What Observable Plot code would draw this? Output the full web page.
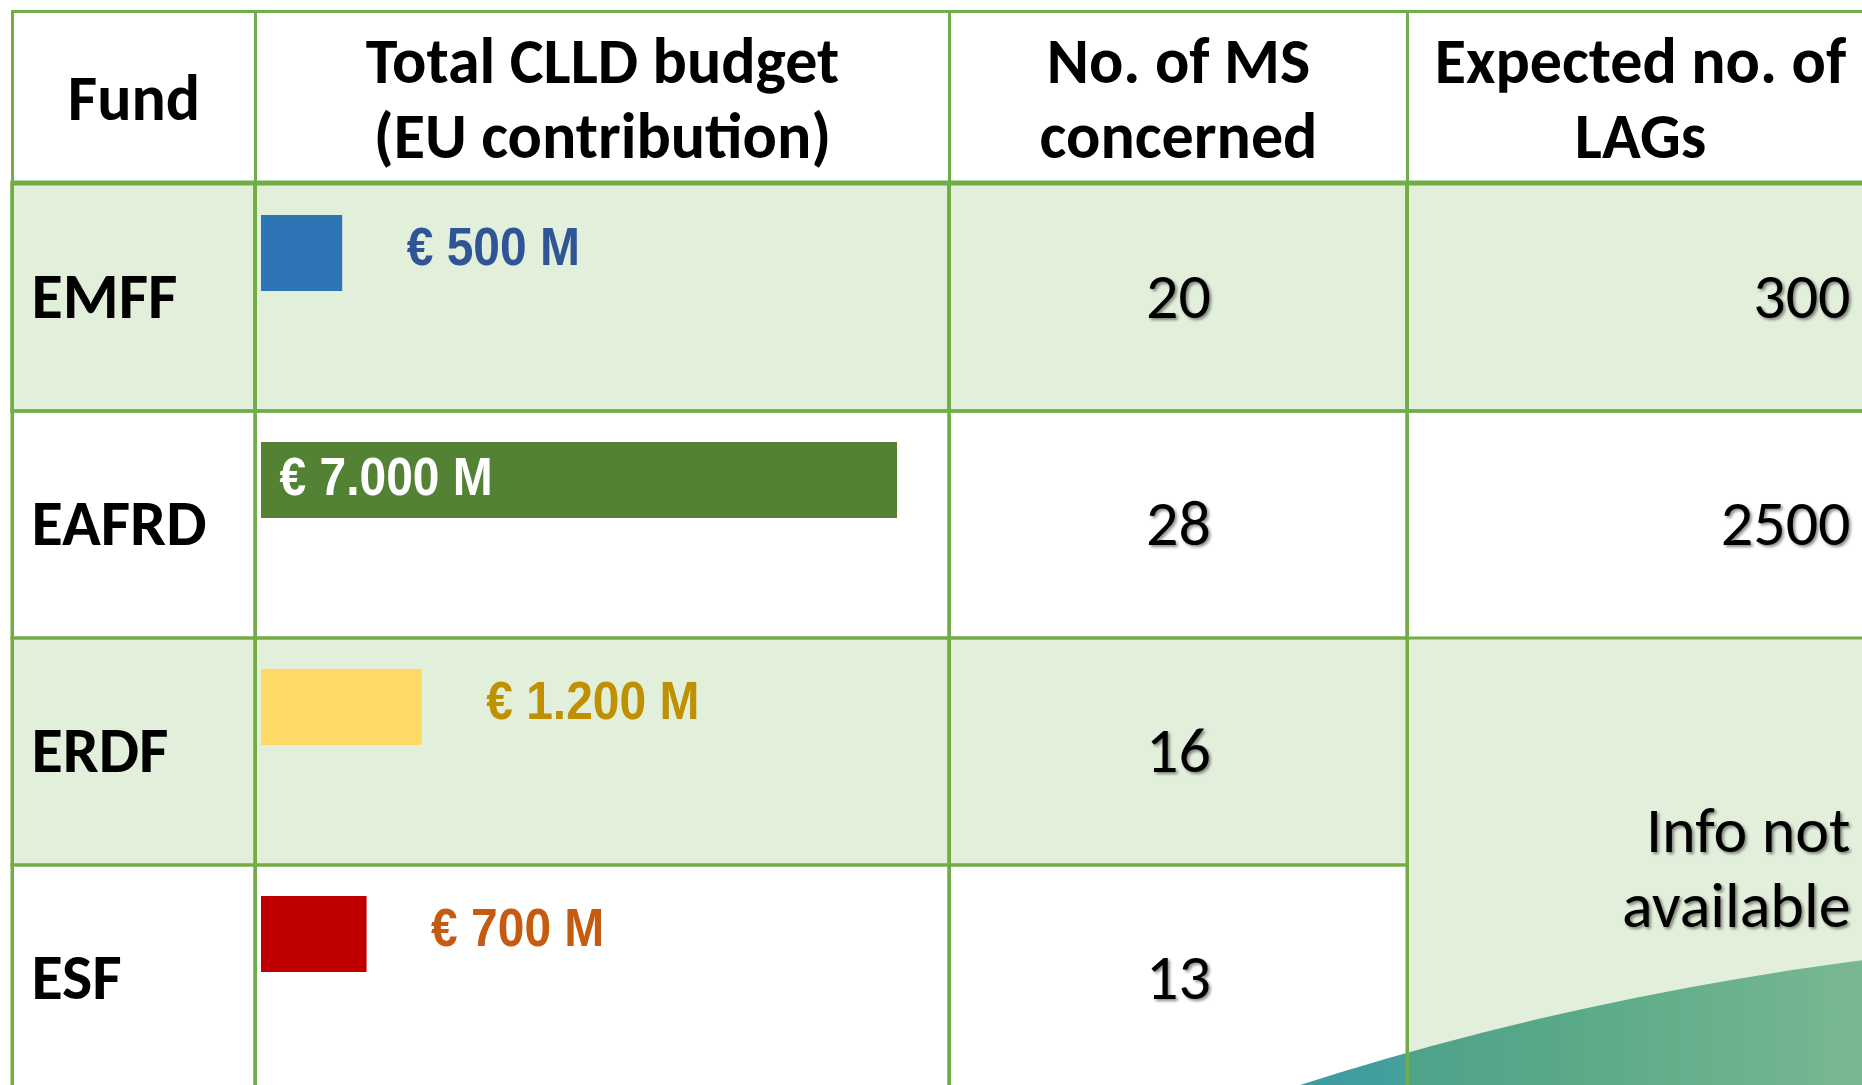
<!DOCTYPE html>
<html><head><meta charset="utf-8">
<script src="https://cdn.jsdelivr.net/npm/d3@7"></script>
<script src="https://cdn.jsdelivr.net/npm/@observablehq/plot@0.6"></script>
<style>
html,body{margin:0;padding:0;background:#fff;}
#stage{position:relative;width:1862px;height:1085px;overflow:hidden;background:#fff;}
#wave{position:absolute;left:125px;top:930px;width:4400px;height:2692px;border-radius:50%;
 background:linear-gradient(90deg,#2f93a1 25%,#3a9aa0 26.5%,#56a999 33%,#7bb9a5 39%);}
#table{position:absolute;left:12px;top:11px;display:flex;width:2000px;}
#table svg{flex:none;max-width:none;overflow:visible;background:transparent;}
</style></head><body>
<div id="stage"><div id="wave"></div><div id="table"></div></div>
<script>
// ---- data ----
const funds = ["EMFF", "EAFRD", "ERDF", "ESF"];
const budgets = [500, 7000, 1200, 700];            // € million
const budgetLabels = ["€ 500 M", "€ 7.000 M", "€ 1.200 M", "€ 700 M"];
const msCounts = [20, 28, 16, 13];
const lagCounts = ["300", "2500"];
const lagNote = "Info not\navailable";
const headers = ["Fund", "Total CLLD budget\n(EU contribution)", "No. of MS\nconcerned", "Expected no. of\nLAGs"];
const barColors = ["#2E75B6", "#548235", "#FFD966", "#C00000"];
const labelColors = ["#2F5597", "#FFFFFF", "#BF9000", "#C55A11"];
const shaded = ["EMFF", "ERDF"];

// ---- style ----
const GREEN = "#70AD47";
const H = 1074;
const calibri = "Carlito, Calibri, Lato, sans-serif";
const arial = "'Liberation Sans', Arial, sans-serif";
const yOpts = {type: "band", domain: funds, range: [173, 1081], padding: 0, axis: null};
const st = {background: "transparent", overflow: "visible"};
const FS = 64;
const LH = 1.17;

function gridMarks(lightRows, strokeRows) {
  return [
    Plot.cell(lightRows, {y: d => d, fill: GREEN, fillOpacity: 0.2, inset: 0, shapeRendering: "crispEdges"}),
    Plot.cell(strokeRows, {y: d => d, fill: "none", stroke: GREEN, strokeWidth: 3, inset: 0}),
    Plot.cell([funds[0]], {y: d => d, fill: "none", stroke: GREEN, strokeWidth: 3, inset: 0, insetTop: -2})
  ];
}
function headerMark(h) {
  return Plot.text([h], {text: d => d, frameAnchor: "top", dy: 85, lineAnchor: "middle", textAnchor: "middle",
    fontFamily: calibri, fontWeight: "bold", fontSize: FS, lineHeight: LH, fill: "black"});
}
const frameMark = () => Plot.frame({stroke: GREEN, strokeWidth: 3});

const base = {marginTop: 0, marginLeft: 0, marginRight: 0, marginBottom: -30, height: H, y: yOpts, style: st};

// Column 1: Fund
const c1 = Plot.plot({...base, width: 243, marks: [
  ...gridMarks(shaded, funds),
  Plot.text(funds, {y: d => d, text: d => d, frameAnchor: "left", dx: 19, textAnchor: "start",
    fontFamily: calibri, fontWeight: "bold", fontSize: FS, fill: "black"}),
  headerMark(headers[0]),
  frameMark()
]});

// Column 2: budget bars
const budgetRows = funds.map((f, i) => ({fund: f, value: budgets[i], label: budgetLabels[i], bar: barColors[i], ink: labelColors[i]}));
const c2 = Plot.plot({...base, width: 694,
  x: {type: "pow", exponent: 0.78, domain: [0, 7000], range: [6, 642], axis: null},
  marks: [
    ...gridMarks(shaded, funds),
    Plot.barX(budgetRows, {x: "value", y: "fund", fill: "bar", insetTop: 31, insetBottom: 120}),
    Plot.text(budgetRows.filter(d => d.value < 5000), {x: "value", y: "fund", text: "label", fill: "ink", dx: 64, dy: -50,
      textAnchor: "start", fontFamily: arial, fontWeight: "bold", fontSize: 53, ariaDescription: "barlabel"}),
    Plot.text(budgetRows.filter(d => d.value >= 5000), {frameAnchor: "left", y: "fund", text: "label", fill: "ink", dx: 24, dy: -47,
      textAnchor: "start", fontFamily: arial, fontWeight: "bold", fontSize: 53, ariaDescription: "barlabel"}),
    headerMark(headers[1]),
    frameMark()
  ]});

// Column 3: No. of MS
const msRows = funds.map((f, i) => ({fund: f, n: msCounts[i]}));
const c3 = Plot.plot({...base, width: 458, marks: [
  ...gridMarks(shaded, funds),
  Plot.text(msRows, {y: "fund", text: d => String(d.n), frameAnchor: "middle", textAnchor: "middle",
    fontFamily: calibri, fontSize: FS, fill: "black", ariaDescription: "shadow"}),
  headerMark(headers[2]),
  frameMark()
]});

// Column 4: LAGs
const lagRows = lagCounts.map((v, i) => ({fund: funds[i], v}));
const c4 = Plot.plot({...base, width: 466, marks: [
  ...gridMarks(["EMFF", "ERDF", "ESF"], ["EMFF", "EAFRD"]),
  Plot.text(lagRows, {y: "fund", text: "v", frameAnchor: "right", dx: -23, textAnchor: "end",
    fontFamily: calibri, fontSize: FS, fill: "black", ariaDescription: "shadow"}),
  Plot.text([lagNote], {y: () => "ERDF", text: d => d, frameAnchor: "right", dx: -23, dy: 113.5, textAnchor: "end",
    lineAnchor: "middle", lineHeight: LH, fontFamily: calibri, fontSize: FS, fill: "black", ariaDescription: "shadow"}),
  headerMark(headers[3]),
  frameMark()
]});

const table = document.getElementById("table");
[c1, c2, c3, c4].forEach(c => table.appendChild(c));

document.querySelectorAll('g[aria-description="shadow"]').forEach(g => {
  g.style.filter = "drop-shadow(2px 2px 1.5px rgba(0,0,0,0.45))";
});
document.querySelectorAll('g[aria-description="barlabel"] text').forEach(t => {
  const tr = t.getAttribute("transform");
  if (tr) t.setAttribute("transform", tr + " scale(0.905,1)");
  else {
    const x = t.getAttribute("x") || 0, y = t.getAttribute("y") || 0;
    t.removeAttribute("x"); t.removeAttribute("y");
    t.setAttribute("transform", `translate(${x},${y}) scale(0.905,1)`);
  }
});
</script>
</body></html>
